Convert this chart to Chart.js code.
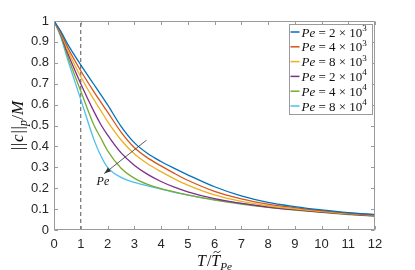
<!DOCTYPE html>
<html>

<head>
    <link rel="shortcut icon" href="#">
    <script src="https://cdn.jsdelivr.net/npm/chart.js@4.4.0/dist/chart.umd.min.js"></script>
    <style>
        html, body { margin: 0; padding: 0; background: #fff; }
    </style>
</head>

<body>
    <canvas id="myChart" width="415" height="270"></canvas>
    <script>
        // time axis T / T~Pe
        const tVals = [0, 0.25, 0.5, 1, 1.5, 1.75, 2, 2.5, 3, 3.5, 4, 4.5, 5, 6, 7, 8, 9, 10, 11, 12];

        // ||c||_p / M for each Peclet number
        const pe2e3 = [1, 0.952, 0.892, 0.79, 0.695, 0.648, 0.60, 0.497, 0.418, 0.366, 0.328, 0.295, 0.264, 0.207, 0.163, 0.132, 0.112, 0.096, 0.083, 0.074];
        const pe4e3 = [1, 0.947, 0.877, 0.762, 0.66, 0.612, 0.565, 0.47, 0.395, 0.345, 0.307, 0.271, 0.238, 0.185, 0.149, 0.124, 0.107, 0.093, 0.081, 0.071];
        const pe8e3 = [1, 0.942, 0.864, 0.733, 0.622, 0.571, 0.52, 0.432, 0.365, 0.317, 0.279, 0.245, 0.215, 0.168, 0.137, 0.116, 0.101, 0.089, 0.078, 0.070];
        const pe2e4 = [1, 0.937, 0.85, 0.70, 0.565, 0.505, 0.455, 0.37, 0.31, 0.266, 0.232, 0.205, 0.183, 0.150, 0.127, 0.110, 0.097, 0.086, 0.076, 0.068];
        const pe4e4 = [1, 0.932, 0.835, 0.665, 0.50, 0.44, 0.38, 0.297, 0.248, 0.218, 0.198, 0.182, 0.168, 0.143, 0.124, 0.108, 0.095, 0.084, 0.074, 0.066];
        const pe8e4 = [1, 0.925, 0.82, 0.625, 0.43, 0.355, 0.30, 0.252, 0.228, 0.211, 0.196, 0.18, 0.167, 0.145, 0.127, 0.112, 0.099, 0.088, 0.079, 0.073];

        const peMant = [2, 4, 8, 2, 4, 8];
        const peExp = [3, 3, 3, 4, 4, 4];
        const colors = ['#0072BD', '#D95319', '#EDB120', '#7E2F8E', '#77AC30', '#4DBEEE'];
        const series = [pe2e3, pe4e3, pe8e3, pe2e4, pe4e4, pe8e4];

        const xTicks = [0, 1, 2, 3, 4, 5, 6, 7, 8, 9, 10, 11, 12];
        const yTicks = [0, 0.1, 0.2, 0.3, 0.4, 0.5, 0.6, 0.7, 0.8, 0.9, 1];

        // reference line at T = 1, arrow showing increasing Pe
        const refX = [1, 1];
        const refY = [0, 1];
        const arrowFrom = [3.46, 0.43];
        const arrowTo = [1.88, 0.27];
        const arrowLabelAt = [1.83, 0.215];

        const serif = '"Liberation Serif", "DejaVu Serif", serif';

        // draw a list of text pieces: {t, it, sup, sub}
        function richText(ctx, segs, x, y, size, align) {
            const fontFor = s => (s.it ? 'italic ' : '') + ((s.sup || s.sub) ? size * 0.7 : size) + 'px ' + serif;
            let w = 0;
            segs.forEach(s => {
                ctx.font = fontFor(s);
                s.w = ctx.measureText(s.t).width + (s.gap || 0);
                w += s.w;
            });
            let cx = align === 'center' ? x - w / 2 : x;
            segs.forEach(s => {
                ctx.font = fontFor(s);
                s.x = cx;
                let dy = s.sup ? -0.42 * size : (s.sub ? 0.25 * size : 0);
                ctx.fillText(s.t, cx, y + dy);
                cx += s.w;
            });
            return w;
        }

        const boxPlugin = {
            id: 'box',
            afterDraw(chart) {
                const { ctx, chartArea: a, scales: { x, y } } = chart;
                ctx.save();
                const L = a.left + 0.5, R = a.right - 0.5, T = a.top + 0.5, B = a.bottom - 0.5;

                // arrow
                const x0 = x.getPixelForValue(arrowFrom[0]), y0 = y.getPixelForValue(arrowFrom[1]);
                const x1 = x.getPixelForValue(arrowTo[0]), y1 = y.getPixelForValue(arrowTo[1]);
                ctx.strokeStyle = '#333'; ctx.fillStyle = '#333'; ctx.lineWidth = 0.8;
                ctx.beginPath(); ctx.moveTo(x0, y0); ctx.lineTo(x1, y1); ctx.stroke();
                const ang = Math.atan2(y1 - y0, x1 - x0);
                ctx.beginPath();
                ctx.moveTo(x1, y1);
                ctx.lineTo(x1 - 7 * Math.cos(ang - 0.35), y1 - 7 * Math.sin(ang - 0.35));
                ctx.lineTo(x1 - 7 * Math.cos(ang + 0.35), y1 - 7 * Math.sin(ang + 0.35));
                ctx.closePath(); ctx.fill();
                ctx.fillStyle = '#111';
                ctx.textBaseline = 'alphabetic';
                richText(ctx, [{ t: 'Pe', it: true }], x.getPixelForValue(arrowLabelAt[0]), y.getPixelForValue(arrowLabelAt[1]), 12, 'center');

                // axes box with inward ticks
                ctx.strokeStyle = '#9a9a9a'; ctx.lineWidth = 1;
                ctx.strokeRect(L, T, R - L, B - T);
                ctx.beginPath();
                xTicks.forEach(v => {
                    const px = Math.round(x.getPixelForValue(v)) + 0.5;
                    ctx.moveTo(px, B); ctx.lineTo(px, B - 3.5);
                    ctx.moveTo(px, T); ctx.lineTo(px, T + 3.5);
                });
                yTicks.forEach(v => {
                    const py = Math.round(y.getPixelForValue(v)) + 0.5;
                    ctx.moveTo(L, py); ctx.lineTo(L + 3.5, py);
                    ctx.moveTo(R, py); ctx.lineTo(R - 3.5, py);
                });
                ctx.stroke();

                // legend
                const lx = a.right - 86, ly = a.top + 3, lw = 83, lh = 90;
                ctx.fillStyle = '#fff';
                ctx.fillRect(lx, ly, lw, lh);
                ctx.strokeStyle = '#9a9a9a';
                ctx.strokeRect(Math.round(lx) + 0.5, Math.round(ly) + 0.5, lw, lh);
                for (let i = 0; i < series.length; i++) {
                    const ry = ly + 8 + i * 14.8;
                    ctx.strokeStyle = colors[i]; ctx.lineWidth = 1.5;
                    ctx.beginPath(); ctx.moveTo(lx + 1.5, ry); ctx.lineTo(lx + 10.5, ry); ctx.stroke();
                    ctx.fillStyle = '#111';
                    richText(ctx, [
                        { t: 'Pe', it: true },
                        { t: ' = ' + peMant[i] + ' \u00d7 10' },
                        { t: String(peExp[i]), sup: true }
                    ], lx + 12.5, ry + 4.5, 13, 'left');
                }

                // axis titles
                ctx.fillStyle = '#111';
                const cx = (a.left + a.right) / 2;
                const xl = [
                    { t: 'T', it: true, gap: 1 },
                    { t: '/' },
                    { t: 'T', it: true },
                    { t: 'Pe', it: true, sub: true }
                ];
                richText(ctx, xl, cx, 266, 16, 'center');
                // tilde over the second T
                const tx = xl[2].x + xl[2].w * 0.62;
                ctx.strokeStyle = '#111'; ctx.lineWidth = 0.9;
                ctx.beginPath();
                ctx.moveTo(tx - 3.5, 253.2);
                ctx.bezierCurveTo(tx - 2, 250.8, tx - 0.5, 251.5, tx, 252);
                ctx.bezierCurveTo(tx + 0.5, 252.5, tx + 2, 253.2, tx + 3.5, 250.8);
                ctx.stroke();

                ctx.translate(22.5, (a.top + a.bottom) / 2);
                ctx.rotate(-Math.PI / 2);
                richText(ctx, [
                    { t: '|', gap: 0.5 }, { t: '|', gap: 1 },
                    { t: 'c', it: true, gap: 1 },
                    { t: '|', gap: 0.5 }, { t: '|' },
                    { t: 'p', it: true, sub: true, gap: 0.5 },
                    { t: '/' },
                    { t: 'M', it: true }
                ], 0, 0, 17, 'center');
                ctx.restore();
            }
        };

        (function () {
            const datasets = series.map((vals, i) => ({
                label: 'Pe = ' + peMant[i] + ' \u00d7 10^' + peExp[i],
                data: tVals.map((t, j) => ({ x: t, y: vals[j] })),
                borderColor: colors[i],
                borderWidth: 1.3,
                pointRadius: 0,
                cubicInterpolationMode: 'monotone',
                fill: false
            }));
            datasets.push({
                label: 'ref',
                data: refX.map((v, j) => ({ x: v, y: refY[j] })),
                borderColor: '#555',
                borderWidth: 1,
                borderDash: [4, 3],
                pointRadius: 0
            });

            new Chart(document.getElementById('myChart'), {
                type: 'line',
                data: { datasets: datasets },
                options: {
                    responsive: false,
                    animation: false,
                    layout: { padding: { top: 21, right: 40, left: 0, bottom: 0 } },
                    plugins: {
                        legend: { display: false },
                        tooltip: { enabled: false }
                    },
                    scales: {
                        x: {
                            type: 'linear',
                            min: 0, max: 12,
                            afterFit: s => { s.height = 40; },
                            afterBuildTicks: s => { s.ticks = xTicks.map(v => ({ value: v })); },
                            grid: { display: false, drawTicks: false },
                            border: { display: false },
                            ticks: {
                                padding: 7,
                                color: '#262626',
                                font: { family: '"Liberation Sans", Arial, sans-serif', size: 13 },
                                maxRotation: 0
                            }
                        },
                        y: {
                            type: 'linear',
                            min: 0, max: 1,
                            afterFit: s => { s.width = 54; },
                            afterBuildTicks: s => { s.ticks = yTicks.map(v => ({ value: v })); },
                            grid: { display: false, drawTicks: false },
                            border: { display: false },
                            ticks: {
                                padding: 5,
                                color: '#262626',
                                font: { family: '"Liberation Sans", Arial, sans-serif', size: 13 },
                                callback: v => String(Math.round(v * 10) / 10)
                            }
                        }
                    }
                },
                plugins: [boxPlugin]
            });
        })();
    </script>
</body>

</html>
